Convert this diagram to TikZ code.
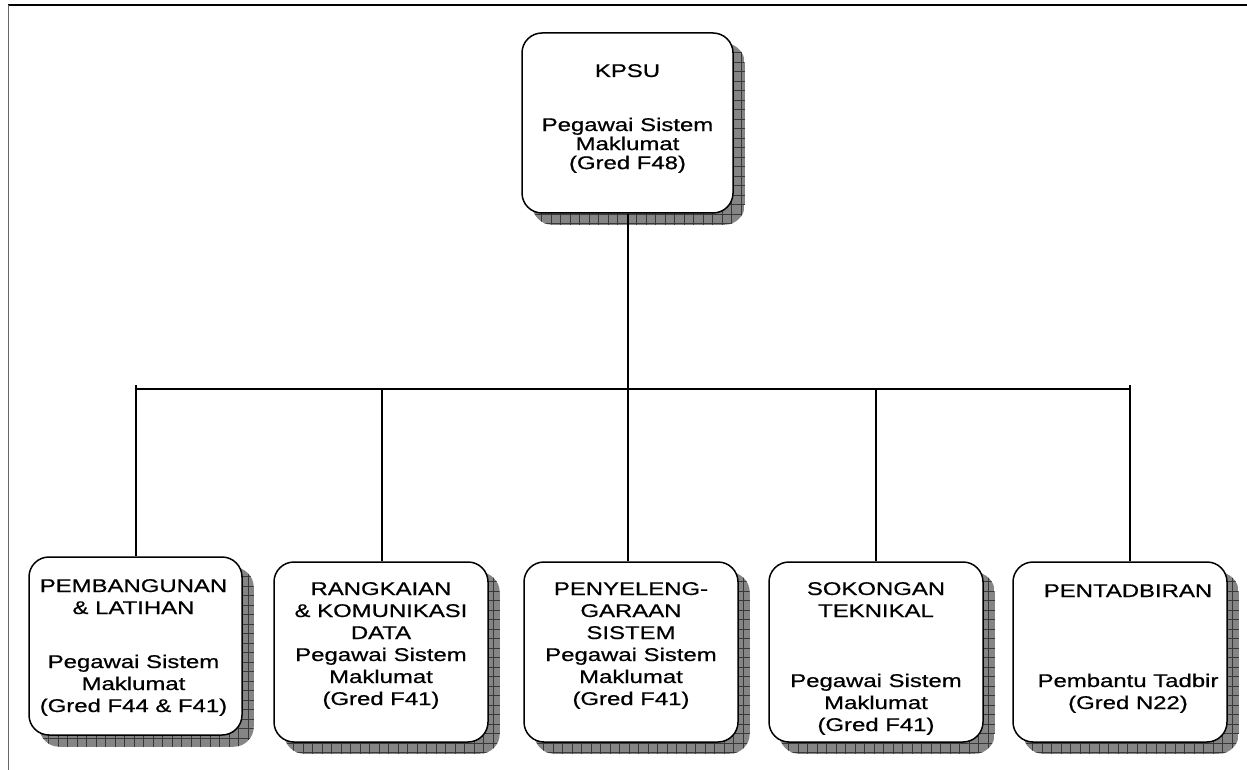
\documentclass[tikz,border=0pt]{standalone}
\usepackage{fontspec}
\setmainfont{Liberation Sans}[FakeStretch=1.3,FakeBold=0.6]
\usetikzlibrary{calc,backgrounds}

% shadow behind a unit box: grey fill with a coarse grid, offset down-right
\newcommand\boxshadow[1]{%
  \begin{scope}
    \clip[rounded corners=20pt] ($(#1.north west)+(11,11)$) rectangle ($(#1.south east)+(11,11)$);
    \fill[shadowfill] ($(#1.north west)+(11,11)$) rectangle ($(#1.south east)+(11,11)$);
    \foreach \k in {0,...,24}{
      \draw[shadowgrid] ($(#1.north west)+(11+\k*9.5,0)$) -- ($(#1.south west)+(11+\k*9.5,22)$);
    }
    \foreach \k in {0,...,20}{
      \draw[shadowgrid] ($(#1.north west)+(0,11+\k*9.5)$) -- ($(#1.north east)+(22,11+\k*9.5)$);
    }
  \end{scope}}

\begin{document}
\begin{tikzpicture}[x=1pt,y=-1pt,
  unitbox/.style={draw=black,line width=1.5pt,fill=white,rounded corners=20pt,
    minimum width=214pt,minimum height=180pt,inner sep=0pt},
  caption/.style={anchor=base,inner sep=0pt,font=\fontsize{18.4}{22}\selectfont},
  topcaption/.style={anchor=base,inner sep=0pt,font=\fontsize{18.4}{19}\selectfont},
  link/.style={draw=black,line width=1.4pt},
  shadowfill/.style={fill=black!48},
  shadowgrid/.style={draw=black!78,line width=0.8pt}]

\useasboundingbox (0,0) rectangle (1247,770);

% page frame
\draw[black,line width=1.5pt] (8,5) -- (1247,5);
\draw[black!60,line width=1.8pt] (8.5,5) -- (8.5,770);

% boxes
\node[unitbox,minimum width=211pt] (kpsu) at (627.5,123) {};
\node[unitbox,minimum width=213pt,minimum height=178pt] (pl) at (135.5,646) {};
\node[unitbox] (rk) at (381,652) {};
\node[unitbox] (ps) at (631,652) {};
\node[unitbox] (st) at (876,652) {};
\node[unitbox] (pt) at (1120,652) {};

\begin{pgfonlayer}{background}
  \boxshadow{kpsu}
  \boxshadow{pl}
  \boxshadow{rk}
  \boxshadow{ps}
  \boxshadow{st}
  \boxshadow{pt}
\end{pgfonlayer}

% captions
\node[topcaption] (tkpsu) at (627.5,77) {\begin{tabular}[t]{@{}c@{}}KPSU\\[35pt]
  Pegawai Sistem\\ Maklumat\\ (Gred F48)\end{tabular}};
\node[caption] (tpl) at (133.5,592) {\begin{tabular}[t]{@{}c@{}}PEMBANGUNAN\\ \& LATIHAN\\[32pt]
  Pegawai Sistem\\ Maklumat\\ (Gred F44 \& F41)\end{tabular}};
\node[caption] (trk) at (381,595) {\begin{tabular}[t]{@{}c@{}}RANGKAIAN\\ \& KOMUNIKASI\\ DATA\\
  Pegawai Sistem\\ Maklumat\\ (Gred F41)\end{tabular}};
\node[caption] (tps) at (631,595) {\begin{tabular}[t]{@{}c@{}}PENYELENG-\\ GARAAN\\ SISTEM\\
  Pegawai Sistem\\ Maklumat\\ (Gred F41)\end{tabular}};
\node[caption] (tst) at (876,595) {\begin{tabular}[t]{@{}c@{}}SOKONGAN\\ TEKNIKAL\\[48pt]
  Pegawai Sistem\\ Maklumat\\ (Gred F41)\end{tabular}};
\node[caption] (tpt) at (1128,597) {\begin{tabular}[t]{@{}c@{}}PENTADBIRAN\\[68pt]
  Pembantu Tadbir\\ (Gred N22)\end{tabular}};

% connectors
\coordinate (busL) at (136,389);
\coordinate (busR) at (1130,389);
\coordinate (d1) at (136,385);
\coordinate (d2) at (382,389);
\coordinate (d3) at (628,389);
\coordinate (d4) at (876,389);
\coordinate (d5) at (1130,385);
\coordinate (up) at (628,389);

\draw[link] (busL) -- (busR);
\draw[link] (up |- kpsu.south) -- (up);
\draw[link] (d1) -- (d1 |- pl.north);
\draw[link] (d2) -- (d2 |- rk.north);
\draw[link] (d3) -- (d3 |- ps.north);
\draw[link] (d4) -- (d4 |- st.north);
\draw[link] (d5) -- (d5 |- pt.north);
\end{tikzpicture}
\end{document}
